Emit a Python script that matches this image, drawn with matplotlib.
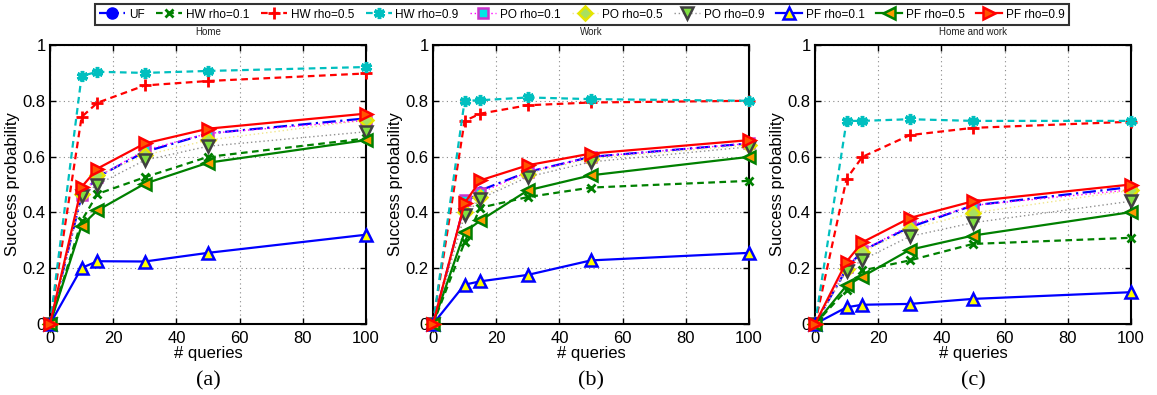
import matplotlib
matplotlib.use("Agg")
import matplotlib.pyplot as plt
from matplotlib.lines import Line2D

plt.rcParams['font.family'] = ['Liberation Sans', 'DejaVu Sans']

queries = [0, 10, 15, 30, 50, 100]
series_names = ['UF', 'HW rho=0.1', 'HW rho=0.5', 'HW rho=0.9', 'PO rho=0.1',
                'PO rho=0.5', 'PO rho=0.9', 'PF rho=0.1', 'PF rho=0.5', 'PF rho=0.9']
panel_titles = ['Home', 'Work', 'Home and work']
panel_captions = ['(a)', '(b)', '(c)']

# Panel (a) Home
home_uf = [0, 0.46, 0.527, 0.617, 0.683, 0.737]
home_hw01 = [0, 0.37, 0.466, 0.526, 0.599, 0.665]
home_hw05 = [0, 0.742, 0.793, 0.855, 0.871, 0.898]
home_hw09 = [0, 0.889, 0.904, 0.900, 0.907, 0.921]
home_po01 = [0, 0.461, 0.527, 0.623, 0.683, 0.730]
home_po05 = [0, 0.467, 0.533, 0.605, 0.659, 0.731]
home_po09 = [0, 0.459, 0.500, 0.587, 0.637, 0.689]
home_pf01 = [0, 0.201, 0.225, 0.224, 0.255, 0.320]
home_pf05 = [0, 0.353, 0.407, 0.503, 0.578, 0.659]
home_pf09 = [0, 0.491, 0.557, 0.647, 0.700, 0.754]

# Panel (b) Work
work_uf = [0, 0.43, 0.479, 0.545, 0.599, 0.647]
work_hw01 = [0, 0.293, 0.417, 0.455, 0.489, 0.513]
work_hw05 = [0, 0.728, 0.754, 0.784, 0.794, 0.800]
work_hw09 = [0, 0.800, 0.802, 0.812, 0.806, 0.800]
work_po01 = [0, 0.443, 0.470, 0.545, 0.599, 0.647]
work_po05 = [0, 0.400, 0.455, 0.539, 0.593, 0.641]
work_po09 = [0, 0.389, 0.449, 0.527, 0.581, 0.635]
work_pf01 = [0, 0.141, 0.153, 0.176, 0.228, 0.255]
work_pf05 = [0, 0.329, 0.371, 0.479, 0.533, 0.599]
work_pf09 = [0, 0.433, 0.515, 0.569, 0.611, 0.659]

# Panel (c) Home and work
hw_uf = [0, 0.198, 0.263, 0.347, 0.425, 0.491]
hw_hw01 = [0, 0.122, 0.192, 0.228, 0.287, 0.309]
hw_hw05 = [0, 0.521, 0.599, 0.677, 0.703, 0.725]
hw_hw09 = [0, 0.728, 0.728, 0.734, 0.728, 0.728]
hw_po01 = [0, 0.204, 0.263, 0.353, 0.425, 0.481]
hw_po05 = [0, 0.198, 0.257, 0.341, 0.398, 0.479]
hw_po09 = [0, 0.190, 0.230, 0.314, 0.363, 0.440]
hw_pf01 = [0, 0.060, 0.069, 0.072, 0.090, 0.114]
hw_pf05 = [0, 0.138, 0.170, 0.266, 0.317, 0.401]
hw_pf09 = [0, 0.224, 0.293, 0.380, 0.440, 0.500]

panels = [
    [home_uf, home_hw01, home_hw05, home_hw09, home_po01, home_po05, home_po09, home_pf01, home_pf05, home_pf09],
    [work_uf, work_hw01, work_hw05, work_hw09, work_po01, work_po05, work_po09, work_pf01, work_pf05, work_pf09],
    [hw_uf, hw_hw01, hw_hw05, hw_hw09, hw_po01, hw_po05, hw_po09, hw_pf01, hw_pf05, hw_pf09],
]

asterisk = (6, 2, 0)
styles = [
    dict(color='#0000ff', ls=(0, (6, 2, 1, 2)), marker='o', mfc='#0000ff', mec='#0000ff', ms=5),
    dict(color='#008000', ls=(0, (3, 2)), marker='x', mfc='#008000', mec='#008000', ms=6, mew=2),
    dict(color='#ff0000', ls=(0, (3, 2)), marker='+', mfc='#ff0000', mec='#ff0000', ms=9, mew=2),
    dict(color='#00bfbf', ls=(0, (3, 2)), marker=asterisk, mfc='#00bfbf', mec='#00bfbf', ms=8, mew=2.5),
    dict(color='#ff00ff', ls=(0, (1, 2)), lw=1.0, marker='s', mfc='#00e5e5', mec='#cc33cc', ms=7, mew=1.8),
    dict(color='#f0e68c', ls=(0, (1, 2)), lw=1.0, marker='D', mfc='#a8e060', mec='#e5e500', ms=7, mew=1.8),
    dict(color='#909090', ls=(0, (1, 2)), lw=1.0, marker='v', mfc='#80e040', mec='#404040', ms=8, mew=1.8),
    dict(color='#0000ff', ls='-', marker='^', mfc='#ffff00', mec='#0000ff', ms=8, mew=1.8),
    dict(color='#008000', ls='-', marker='<', mfc='#ff9900', mec='#008000', ms=8, mew=1.8),
    dict(color='#ff0000', ls='-', marker='>', mfc='#ff5500', mec='#ff0000', ms=9, mew=1.8),
]

fig = plt.figure(figsize=(11.57, 3.95), dpi=100)
W, H = 1157.0, 395.0
lefts = [50, 433, 815]
axw = 316
top, bottom = 45, 324

handles = []
for i, (left, data) in enumerate(zip(lefts, panels)):
    ax = fig.add_axes([left / W, 1 - bottom / H, axw / W, (bottom - top) / H])
    for j, (name, vals, st) in enumerate(zip(series_names, data, styles)):
        st = dict(st)
        lw = st.pop('lw', 1.6)
        ax.plot(queries, vals, label=name, lw=lw, zorder=3 + j, clip_on=False, **st)
        if i == 0:
            hst = dict(st)
            if name == 'UF':
                hst['ms'] = 8
            handles.append(Line2D([], [], lw=lw, label=name, **hst))
    ax.set_xlim(0, 100)
    ax.set_ylim(0, 1)
    ax.set_xticks([0, 20, 40, 60, 80, 100])
    ax.set_yticks([0, 0.2, 0.4, 0.6, 0.8, 1])
    ax.set_yticklabels(['0', '0.2', '0.4', '0.6', '0.8', '1'])
    ax.grid(True, ls=(0, (1, 3)), color='#888888', lw=0.8)
    ax.tick_params(direction='in', top=True, right=True, labelsize=12, length=4, width=1.0, pad=3)
    ax.tick_params(axis='x', pad=5)
    for sp in ax.spines.values():
        sp.set_linewidth(1.5)
    ax.set_xlabel('# queries', fontsize=12, labelpad=0)
    ax.set_ylabel('Success probability', fontsize=12, labelpad=2)
    ax.set_title(panel_titles[i], fontsize=7, pad=7, color='#222222')
    fig.text((left + axw / 2) / W, 1 - 381 / H, panel_captions[i], ha='center', va='center',
             fontsize=16, family='Liberation Serif')

leg = fig.legend(handles=handles, loc='center', bbox_to_anchor=(582 / W, 1 - 14.5 / H), ncol=10,
                 fontsize=8.5, frameon=True, fancybox=False, edgecolor='black',
                 handlelength=2.2, handletextpad=0.3, columnspacing=1.0, borderpad=0.35,
                 borderaxespad=0)
leg.get_frame().set_linewidth(1.5)

fig.savefig('out.png', dpi=100)
